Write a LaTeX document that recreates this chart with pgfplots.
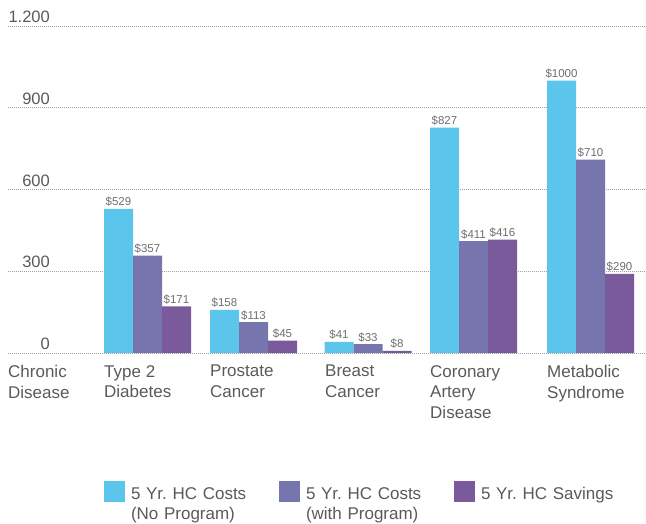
\documentclass[border=0pt]{standalone}
\usepackage{pgfplots}
\pgfplotsset{compat=1.18}
\usepackage{fontspec}
\setmainfont{Liberation Sans}
\frenchspacing
\definecolor{cA}{HTML}{5CC5EC}
\definecolor{cB}{HTML}{7775AE}
\definecolor{cC}{HTML}{7B5A9B}
\definecolor{txt}{HTML}{5A5A5A}
\definecolor{vtxt}{HTML}{6E6E6E}
\begin{document}
\begin{tikzpicture}
\useasboundingbox (0,0) rectangle (646pt,523pt);
\begin{axis}[
  at={(8pt,170pt)}, anchor=south west,
  width=638pt, height=327pt, scale only axis,
  xmin=8, xmax=646, ymin=0, ymax=1200,
  ybar=0pt, bar width=29,
  clip=false,
  axis line style={draw=none},
  major tick length=0pt,
  ymajorgrids=true,
  grid style={gray!75, line width=1pt, dash pattern=on 1pt off 1pt},
  ytick={0,300,600,900,1200},
  yticklabels={0,300,600,900,1.200},
  yticklabel style={anchor=south east, inner sep=0pt, xshift=42pt, yshift=3pt,
     font=\fontsize{16.5}{20}\selectfont, text=txt},
  xtick={8,104,210,325,430,547},
  xticklabels={{Chronic\\Disease},{Type 2\\Diabetes},{Prostate\\Cancer},{Breast\\Cancer},{Coronary\\Artery\\Disease},{Metabolic\\Syndrome}},
  xticklabel style={anchor=north west, align=left, inner sep=0pt, yshift=-12pt,
     font=\fontsize{17}{20.5}\selectfont, text=txt},
  nodes near coords={\$\pgfmathprintnumber[assume math mode=true,fixed,precision=0,1000 sep={}]{\pgfplotspointmeta}},
  every node near coord/.append style={font=\fontsize{11.5}{13}\selectfont, text=vtxt, inner sep=2pt},
  legend columns=3,
  legend image code/.code={\fill[#1] (0pt,-8pt) rectangle (21pt,13pt);},
  legend style={draw=none, at={(0.1505,-0.3914)}, anchor=north west, inner sep=0pt, outer sep=0pt,
     nodes={align=left, text width=143pt, inner sep=0pt, font=\fontsize{17}{20}\selectfont, text=txt},
     /tikz/every even column/.append style={column sep=5pt},
     /tikz/every odd column/.append style={column sep=6pt}},
  legend cell align=left,
]
\addplot[fill=cA, draw=none] coordinates {(147.5,529) (253.5,158) (368,41) (473.5,827) (590.5,1000)};
\addplot[fill=cB, draw=none] coordinates {(147.5,357) (253.5,113) (368,33) (473.5,411) (590.5,710)};
\addplot[fill=cC, draw=none] coordinates {(147.5,171) (253.5,45) (368,8) (473.5,416) (590.5,290)};
\legend{{5 Yr. HC Costs\\(No Program)},{5 Yr. HC Costs\\(with Program)},{5 Yr. HC Savings}}
\end{axis}
\end{tikzpicture}
\end{document}
